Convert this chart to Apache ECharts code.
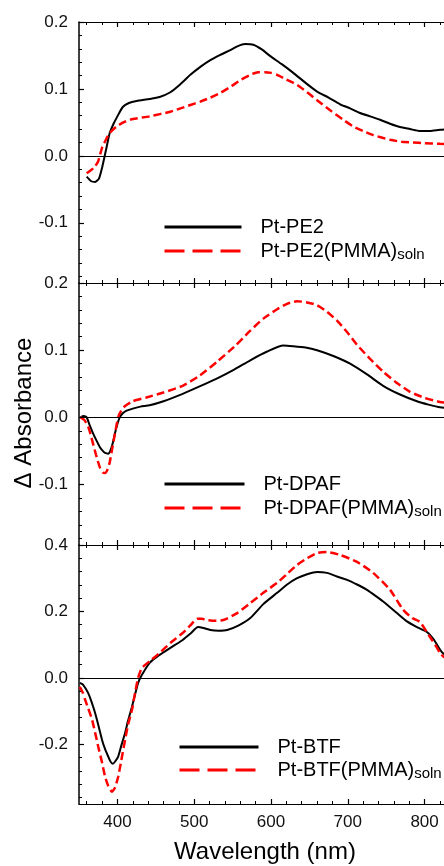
<!DOCTYPE html>
<html><head><meta charset="utf-8">
<script src="https://cdn.jsdelivr.net/npm/echarts@6/dist/echarts.min.js"></script>
<style>html,body{margin:0;padding:0;background:#fff}#c{width:444px;height:866px}</style>
</head><body><div id="c"></div>
<script>
const FONT = '"Liberation Sans", Arial, sans-serif';

// ---- data (wavelength nm, delta absorbance) ----
const pe2Wl = [360,366,371,376,380,385,390,395,400,407,415,425,442,455,469,482,495,508,521,534,547,557,566,577,588,599,614,629,645,660,675,690,703,716,729,742,755,768,781,794,807,820,835,850];
const pe2Val = [-0.031,-0.038,-0.039,-0.034,-0.018,0.008,0.034,0.048,0.059,0.073,0.079,0.082,0.085,0.088,0.095,0.107,0.121,0.133,0.143,0.151,0.158,0.164,0.167,0.166,0.159,0.149,0.137,0.124,0.109,0.096,0.087,0.077,0.071,0.064,0.059,0.054,0.048,0.043,0.040,0.037,0.037,0.039,0.040,0.040];
const pe2PmWl = [360,365,370,375,380,385,390,399,410,420,442,469,485,495,508,521,534,547,560,573,583,592,600,608,620,634,647,660,677,694,707,720,733,755,770,785,800,820,850];
const pe2PmVal = [-0.026,-0.022,-0.017,-0.008,0.012,0.024,0.034,0.044,0.051,0.055,0.059,0.066,0.072,0.076,0.081,0.087,0.094,0.103,0.113,0.121,0.125,0.125,0.124,0.121,0.114,0.106,0.095,0.083,0.068,0.054,0.044,0.037,0.031,0.024,0.021,0.020,0.019,0.018,0.017];

const dpafWl = [352,356,360,364,368,373,377,381,384,388,391,394,397,400,403,407,412,420,430,442,460,485,507,530,552,573,595,616,629,645,660,682,703,725,746,768,790,805,820,850];
const dpafVal = [0.0,0.002,0.0,-0.012,-0.023,-0.035,-0.044,-0.050,-0.053,-0.054,-0.049,-0.038,-0.023,-0.010,0.0,0.006,0.010,0.013,0.016,0.018,0.024,0.035,0.046,0.058,0.071,0.085,0.098,0.107,0.106,0.104,0.100,0.091,0.080,0.064,0.047,0.034,0.024,0.019,0.015,0.012];
const dpafPmWl = [352,357,362,365,368,372,377,381,384,387,390,393,397,401,405,410,420,439,460,485,507,530,552,573,590,608,621,634,647,660,673,686,699,712,729,746,763,781,800,820,850];
const dpafPmVal = [0.0,-0.004,-0.014,-0.025,-0.038,-0.055,-0.074,-0.082,-0.083,-0.078,-0.067,-0.048,-0.023,0.0,0.010,0.017,0.024,0.030,0.037,0.047,0.062,0.083,0.105,0.129,0.147,0.161,0.169,0.173,0.171,0.167,0.157,0.144,0.127,0.108,0.087,0.068,0.052,0.038,0.029,0.023,0.018];

const btfWl = [351,355,358,362,366,371,376,380,384,388,391,394,397,401,405,410,414,419,423,427,432,442,453,465,475,485,495,505,512,521,532,543,558,573,590,608,621,634,647,660,673,686,699,712,725,733,746,764,777,790,803,812,820,825,850];
const btfVal = [-0.015,-0.020,-0.030,-0.046,-0.070,-0.106,-0.150,-0.187,-0.215,-0.237,-0.252,-0.259,-0.252,-0.237,-0.205,-0.166,-0.128,-0.087,-0.050,-0.015,0.009,0.045,0.066,0.084,0.099,0.114,0.133,0.153,0.150,0.144,0.142,0.144,0.158,0.180,0.222,0.256,0.281,0.300,0.312,0.319,0.316,0.305,0.295,0.281,0.265,0.252,0.230,0.195,0.170,0.153,0.138,0.115,0.085,0.072,0.050];
const btfPmWl = [351,355,358,362,367,371,375,380,384,388,393,397,401,405,410,414,419,423,427,432,442,455,469,485,495,504,510,517,528,538,556,573,590,608,621,634,647,660,673,690,712,733,755,772,784,794,807,815,820,825,850];
const btfPmVal = [-0.027,-0.045,-0.066,-0.092,-0.126,-0.165,-0.207,-0.255,-0.298,-0.325,-0.343,-0.330,-0.298,-0.250,-0.187,-0.140,-0.096,-0.045,0.000,0.030,0.050,0.075,0.105,0.135,0.158,0.178,0.178,0.174,0.172,0.174,0.195,0.225,0.256,0.286,0.313,0.340,0.360,0.376,0.379,0.370,0.349,0.316,0.265,0.205,0.180,0.168,0.123,0.095,0.075,0.063,0.040];

const seriesNames = [['Pt-PE2','Pt-PE2(PMMA)soln'],['Pt-DPAF','Pt-DPAF(PMMA)soln'],['Pt-BTF','Pt-BTF(PMMA)soln']];
const xTickLabels = [400,500,600,700,800];
const yTickLabels = [[-0.1,0,0.1,0.2],[-0.1,0,0.1,0.2],[-0.2,0,0.2,0.4]];
const yRanges = [[-0.19,0.2],[-0.19,0.2],[-0.38,0.4]];
const xRange = [350,850];
const yMinorStep = [0.02,0.02,0.04];

const zip = (a,b) => a.map((x,i)=>[x,b[i]]);
const panelData = [
  [zip(pe2Wl,pe2Val), zip(pe2PmWl,pe2PmVal)],
  [zip(dpafWl,dpafVal), zip(dpafPmWl,dpafPmVal)],
  [zip(btfWl,btfVal), zip(btfPmWl,btfPmVal)]
];

const xMinor = [];
for (let v = 360; v <= 840; v += 20) if (v % 100 !== 0) xMinor.push(v);
function yMinorFor(i){
  const out=[]; const s=yMinorStep[i];
  for (let k=-10;k<=10;k++){ if (k%5===0) continue; const v=+(k*s).toFixed(3); if (v>yRanges[i][0] && v<yRanges[i][1]) out.push(v); }
  return out;
}

// ---- layout ----
const gridLayout = [
  {left:79, top:22, width:384, height:261},
  {left:79, top:283, width:384, height:262},
  {left:79, top:545, width:384, height:259}
];
const legendLayout = [
  {left:163, top:217, itemWidth:77, itemGap:4},
  {left:163, top:474, itemWidth:80, itemGap:4},
  {left:178, top:737, itemWidth:79, itemGap:3}
];

const axisLineStyle = {color:'#000', width:1.2};
const grid=[], xAxis=[], yAxis=[], series=[], legend=[];

for (let i=0;i<3;i++){
  grid.push(Object.assign({outerBoundsMode:'none', containLabel:false}, gridLayout[i]));
  const baseX = {type:'value', gridIndex:i, min:xRange[0], max:xRange[1], splitLine:{show:false}};
  xAxis.push(Object.assign({}, baseX, {position:'bottom',
    axisLine:{show:true, onZero:false, lineStyle:axisLineStyle},
    axisTick:{show:true, inside:true, length:5, customValues:xTickLabels, lineStyle:{color:'#000',width:1.2}},
    axisLabel:{show:i===2, customValues:xTickLabels, margin:10, color:'#111', fontSize:17, fontFamily:FONT}}));
  xAxis.push(Object.assign({}, baseX, {position:'bottom',
    axisLine:{show:false, onZero:false},
    axisTick:{show:true, inside:true, length:3, customValues:xMinor, lineStyle:{color:'#000',width:1}},
    axisLabel:{show:false}}));
  xAxis.push(Object.assign({}, baseX, {position:'top',
    axisLine:{show:true, onZero:false, lineStyle:axisLineStyle},
    axisTick:{show:true, inside:true, length:5, customValues:xTickLabels, lineStyle:{color:'#000',width:1.2}},
    axisLabel:{show:false}}));
  xAxis.push(Object.assign({}, baseX, {position:'top',
    axisLine:{show:false, onZero:false},
    axisTick:{show:true, inside:true, length:3, customValues:xMinor, lineStyle:{color:'#000',width:1}},
    axisLabel:{show:false}}));

  const baseY = {type:'value', gridIndex:i, min:yRanges[i][0], max:yRanges[i][1], position:'left', splitLine:{show:false}};
  yAxis.push(Object.assign({}, baseY, {
    axisLine:{show:true, onZero:false, lineStyle:{color:'#000', width:1.5}},
    axisTick:{show:true, inside:true, length:5, customValues:yTickLabels[i], lineStyle:{color:'#000',width:1.2}},
    axisLabel:{show:true, customValues:yTickLabels[i], margin:11, color:'#111', fontSize:17, fontFamily:FONT,
      formatter:v=>Number(v).toFixed(1)}}));
  yAxis.push(Object.assign({}, baseY, {
    axisLine:{show:false, onZero:false},
    axisTick:{show:true, inside:true, length:3, customValues:yMinorFor(i), lineStyle:{color:'#000',width:1}},
    axisLabel:{show:false}}));

  series.push({
    name:seriesNames[i][0], type:'line', xAxisIndex:4*i, yAxisIndex:2*i,
    data:panelData[i][0], symbol:'none', showSymbol:false, smooth:0.2,
    lineStyle:{color:'#000', width:2}, itemStyle:{color:'#000'}, z:3,
    markLine:{silent:true, symbol:['none','none'], label:{show:false},
      lineStyle:{color:'#000', width:1, type:'solid'}, emphasis:{disabled:true},
      data:[{yAxis:0}]}
  });
  series.push({
    name:seriesNames[i][1], type:'line', xAxisIndex:4*i, yAxisIndex:2*i,
    data:panelData[i][1], symbol:'none', showSymbol:false, smooth:0.2,
    lineStyle:{color:'#ff0000', width:2.5, type:[8,4]}, itemStyle:{color:'#ff0000'}, z:4
  });

  legend.push({
    orient:'vertical', left:legendLayout[i].left, top:legendLayout[i].top,
    itemWidth:legendLayout[i].itemWidth, itemHeight:14, itemGap:legendLayout[i].itemGap,
    padding:0, selectedMode:false,
    data:[
      {name:seriesNames[i][0], itemStyle:{opacity:0}, lineStyle:{color:'#000', width:3, type:'solid'}},
      {name:seriesNames[i][1], itemStyle:{opacity:0}, lineStyle:{color:'#ff0000', width:3, type:[20,8]}}
    ],
    formatter:(name)=> name.endsWith('soln') ? '{m|'+name.slice(0,-4)+'}{s|soln}' : '{m|'+name+'}',
    textStyle:{color:'#000', fontFamily:FONT, rich:{
      m:{fontSize:20, lineHeight:22, fontFamily:FONT, color:'#000', padding:[0,0,0,14]},
      s:{fontSize:15, lineHeight:22, fontFamily:FONT, color:'#000', verticalAlign:'bottom'}
    }}
  });
}

const option = {
  animation:false, backgroundColor:'#fff',
  grid, xAxis, yAxis, series, legend,
  graphic:[
    {type:'text', x:265, y:852, style:{text:'Wavelength (nm)', font:'24px '+FONT, fill:'#000', align:'center', verticalAlign:'middle'}},
    {type:'text', x:24, y:413, rotation:Math.PI/2, style:{text:'Δ Absorbance', font:'24px '+FONT, fill:'#000', align:'center', verticalAlign:'middle'}}
  ]
};
const chart = echarts.init(document.getElementById('c'), null, {renderer:'canvas'});
chart.setOption(option);
</script></body></html>
